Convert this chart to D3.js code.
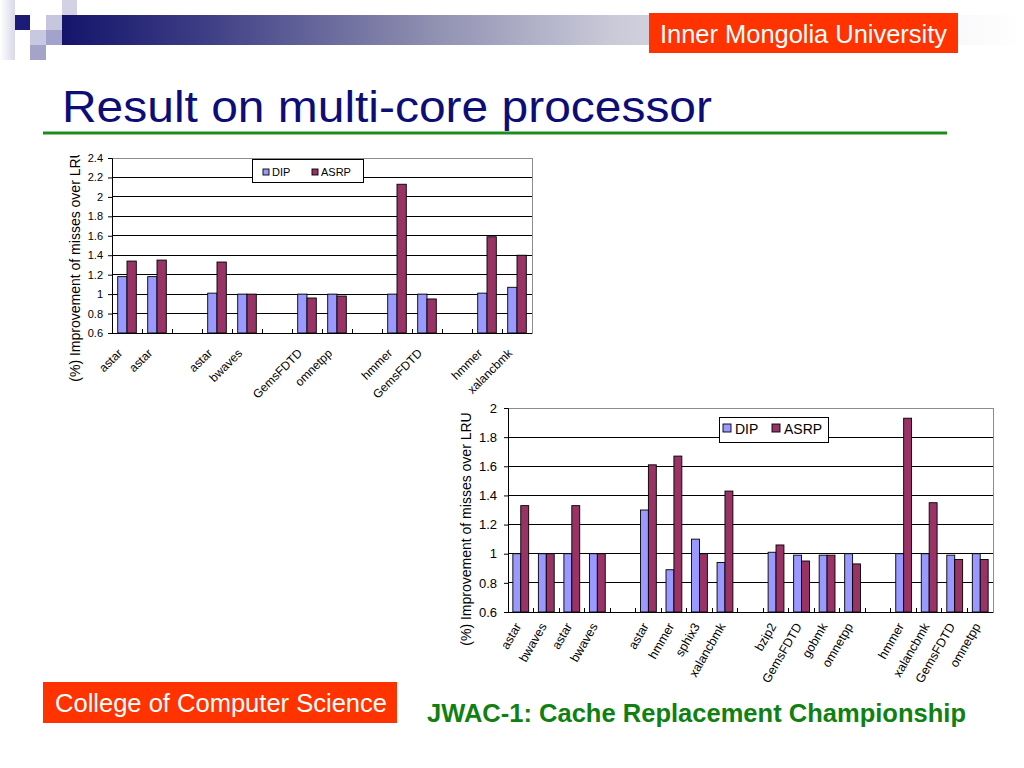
<!DOCTYPE html>
<html><head><meta charset="utf-8">
<script src="https://cdn.jsdelivr.net/npm/d3@7"></script>
<style>body{margin:0;background:#fff}svg{display:block}text{font-family:"Liberation Sans",Arial,sans-serif}</style>
</head><body><svg id="c" width="1024" height="768"></svg>
<script>
// ---------- data ----------
const seriesNames = ["DIP", "ASRP"];
const seriesColors = ["#9999ff", "#993366"];

const topCategories = ["astar","astar","","astar","bwaves","","GemsFDTD","omnetpp","","hmmer","GemsFDTD","","hmmer","xalancbmk"];
const topDIP  = [1.18,1.18,null,1.01,1.00,null,1.00,1.00,null,1.00,1.00,null,1.01,1.07];
const topASRP = [1.34,1.35,null,1.33,1.00,null,0.96,0.98,null,2.13,0.95,null,1.59,1.40];
const topTicks = [0.6,0.8,1.0,1.2,1.4,1.6,1.8,2.0,2.2,2.4];

const bottomCategories = ["astar","bwaves","astar","bwaves","","astar","hmmer","sphix3","xalancbmk","","bzip2","GemsFDTD","gobmk","omnetpp","","hmmer","xalancbmk","GemsFDTD","omnetpp"];
const bottomDIP  = [1.00,1.00,1.00,1.00,null,1.30,0.89,1.10,0.94,null,1.01,0.99,0.99,1.00,null,1.00,1.00,0.99,1.00];
const bottomASRP = [1.33,1.00,1.33,1.00,null,1.61,1.67,1.00,1.43,null,1.06,0.95,0.99,0.93,null,1.93,1.35,0.96,0.96];
const bottomTicks = [0.6,0.8,1.0,1.2,1.4,1.6,1.8,2.0];

const axisTitle = "(%) Improvement of misses over LRU";
const slideTitle = "Result on multi-core processor";
const headerLabel = "Inner Mongolia University";
const footerLabel = "College of Computer Science";
const footerTitle = "JWAC-1: Cache Replacement Championship";

// ---------- page ----------
const svg = d3.select("#c");
svg.append("rect").attr("width",1024).attr("height",768).attr("fill","#fff");
const defs = svg.append("defs");
const grad = defs.append("linearGradient").attr("id","hdr").attr("x1","0").attr("x2","1").attr("y1","0").attr("y2","0");
[[0,"#14146c"],[0.15,"#3e3e86"],[0.38,"#8e8eb0"],[0.57,"#c9c9d8"],[0.8,"#eeeef3"],[1,"#ffffff"]]
  .forEach(([o,c])=>grad.append("stop").attr("offset",o).attr("stop-color",c));
const lg = defs.append("linearGradient").attr("id","lft").attr("x1","0").attr("x2","1");
lg.append("stop").attr("offset",0).attr("stop-color","#ffffff");
lg.append("stop").attr("offset",1).attr("stop-color","#d8d8e8");

svg.append("rect").attr("x",62).attr("y",15).attr("width",962).attr("height",30).attr("fill","url(#hdr)");
const squares = [
  [0,0,15,60,"url(#lft)"],
  [62,0,15,15,"#d2d2e4"],
  [15,15,15,15,"#1c1c78"],
  [46,15,16,15,"#c6c6de"],
  [30,30,16,15,"#c8c8e0"],
  [46,30,16,15,"#a2a2cc"],
  [30,45,16,15,"#a4a4c8"]
];
svg.selectAll(".sq").data(squares).join("rect").attr("class","sq")
  .attr("x",d=>d[0]).attr("y",d=>d[1]).attr("width",d=>d[2]).attr("height",d=>d[3]).attr("fill",d=>d[4]);

svg.append("rect").attr("x",649).attr("y",13).attr("width",309).attr("height",40).attr("fill","#ff3300");
svg.append("text").attr("x",660).attr("y",43).attr("fill","#fff").attr("font-size",25)
  .attr("textLength",287).attr("lengthAdjust","spacingAndGlyphs").text(headerLabel);

svg.append("text").attr("x",62).attr("y",122).attr("fill","#0d0d78").attr("font-size",44)
  .attr("font-family","'DejaVu Sans', sans-serif")
  .attr("textLength",650).attr("lengthAdjust","spacingAndGlyphs").text(slideTitle);
svg.append("line").attr("x1",43).attr("x2",947).attr("y1",133).attr("y2",133)
  .attr("stroke","#1f8a1f").attr("stroke-width",3);

svg.append("rect").attr("x",43).attr("y",682).attr("width",354).attr("height",41).attr("fill","#ff3300");
svg.append("text").attr("x",55).attr("y",712).attr("fill","#fff").attr("font-size",25)
  .attr("textLength",332).attr("lengthAdjust","spacingAndGlyphs").text(footerLabel);
svg.append("text").attr("x",427).attr("y",722).attr("fill","#108010").attr("font-size",26)
  .attr("font-weight","bold").attr("textLength",539).attr("lengthAdjust","spacingAndGlyphs").text(footerTitle);

// ---------- chart ----------
function drawChart(cfg){
  const g = svg.append("g");
  const {cats, dip, asrp, ticks, x0, x1, yTop, yBot} = cfg;
  const x = d3.scaleBand().domain(d3.range(cats.length)).range([x0,x1]).paddingInner(0.38).paddingOuter(0.19);
  const xs = d3.scaleBand().domain(seriesNames).range([0,x.bandwidth()]);
  const y = d3.scaleLinear().domain([ticks[0], ticks[ticks.length-1]]).range([yBot,yTop]);

  // border
  g.append("rect").attr("x",x0).attr("y",yTop).attr("width",x1-x0).attr("height",yBot-yTop)
    .attr("fill","#fff").attr("stroke","#8c8c8c").attr("stroke-width",1).attr("shape-rendering","crispEdges");
  // gridlines
  g.selectAll(".grid").data(ticks.slice(1,-1)).join("line")
    .attr("x1",x0).attr("x2",x1).attr("y1",d=>y(d)).attr("y2",d=>y(d))
    .attr("stroke","#000").attr("stroke-width",1).attr("shape-rendering","crispEdges");

  // bars
  const rows = cats.map((c,i)=>({i, vals:[dip[i], asrp[i]]}));
  const grp = g.selectAll(".cat").data(rows).join("g").attr("transform",d=>`translate(${x(d.i)},0)`);
  grp.selectAll("rect").data(d=>d.vals.map((v,k)=>({v,k})).filter(e=>e.v!=null)).join("rect")
    .attr("x",e=>xs(seriesNames[e.k])).attr("width",xs.bandwidth())
    .attr("y",e=>y(e.v)).attr("height",e=>y(ticks[0])-y(e.v))
    .attr("fill",e=>seriesColors[e.k]).attr("stroke","#000").attr("stroke-width",0.9);

  // y axis
  const ya = d3.axisLeft(y).tickValues(ticks).tickSize(cfg.tickLen).tickPadding(cfg.tickPad)
    .tickFormat(d=>String(+d.toFixed(1)));
  const ag = g.append("g").attr("transform",`translate(${x0},0)`).call(ya);
  ag.select(".domain").attr("stroke","#000");
  ag.selectAll(".tick line").attr("stroke","#000");
  ag.selectAll(".tick text").attr("font-size",cfg.tickFont).attr("fill","#000")
    .attr("font-family","'Liberation Sans', Arial, sans-serif");

  // x axis line & category boundary ticks
  g.append("line").attr("x1",x0).attr("x2",x1).attr("y1",yBot).attr("y2",yBot).attr("stroke","#000").attr("shape-rendering","crispEdges");
  const bounds = d3.range(1,cats.length).map(i=>x(i)-x.step()*x.paddingInner()/2);
  g.selectAll(".xt").data(bounds).join("line")
    .attr("x1",d=>d).attr("x2",d=>d).attr("y1",yBot).attr("y2",yBot-4)
    .attr("stroke","#000").attr("shape-rendering","crispEdges");

  // category labels
  g.selectAll(".xl").data(rows.filter(r=>cats[r.i]!=="")).join("text")
    .attr("transform",d=>`translate(${x(d.i)+x.bandwidth()/2+cfg.lblDx},${yBot+cfg.lblDy}) rotate(${cfg.lblRot})`)
    .attr("text-anchor","end").attr("dy","0.35em").attr("font-size",cfg.lblFont).attr("fill","#000")
    .text(d=>cats[d.i]);

  // axis title (clip group is unrotated, text inside is rotated)
  const clipId = "clip"+cfg.id;
  defs.append("clipPath").attr("id",clipId).attr("clipPathUnits","userSpaceOnUse").append("rect")
    .attr("x",0).attr("y",cfg.titleClipY).attr("width",1024).attr("height",768-cfg.titleClipY);
  g.append("g").attr("clip-path",`url(#${clipId})`).append("text")
    .attr("transform",`translate(${cfg.titleX},${cfg.titleY}) rotate(-90)`)
    .attr("text-anchor","middle").attr("dy","0.35em").attr("font-size",14).attr("fill","#000")
    .text(axisTitle);

  // legend
  const L = cfg.legend;
  g.append("rect").attr("x",L.x).attr("y",L.y).attr("width",L.w).attr("height",L.h)
    .attr("fill","#fff").attr("stroke","#000").attr("stroke-width",1).attr("shape-rendering","crispEdges");
  seriesNames.forEach((s,k)=>{
    g.append("rect").attr("x",L.items[k]).attr("y",L.sqY).attr("width",L.sq).attr("height",L.sq)
      .attr("fill",seriesColors[k]).attr("stroke","#000").attr("stroke-width",0.9);
    g.append("text").attr("x",L.items[k]+L.sq+L.gap).attr("y",L.baseY).attr("font-size",L.font).attr("fill","#000").text(s);
  });
}

drawChart({id:"top", cats:topCategories, dip:topDIP, asrp:topASRP, ticks:topTicks,
  x0:112, x1:532, yTop:158, yBot:333, tickLen:4, tickPad:5, tickFont:11,
  lblDx:-7, lblDy:18, lblRot:-45, lblFont:12,
  titleX:75, titleY:265, titleClipY:155,
  legend:{x:252,y:159,w:111,h:23,items:[263,312],sq:6,sqY:169,gap:3,baseY:176,font:11}});

drawChart({id:"bot", cats:bottomCategories, dip:bottomDIP, asrp:bottomASRP, ticks:bottomTicks,
  x0:508, x1:993, yTop:408, yBot:612, tickLen:4, tickPad:7, tickFont:13,
  lblDx:-3, lblDy:12, lblRot:-60, lblFont:12.5,
  titleX:466, titleY:529, titleClipY:0,
  legend:{x:719,y:417,w:109,h:25,items:[723,772],sq:8,sqY:424,gap:4,baseY:434,font:14}});
</script></body></html>
